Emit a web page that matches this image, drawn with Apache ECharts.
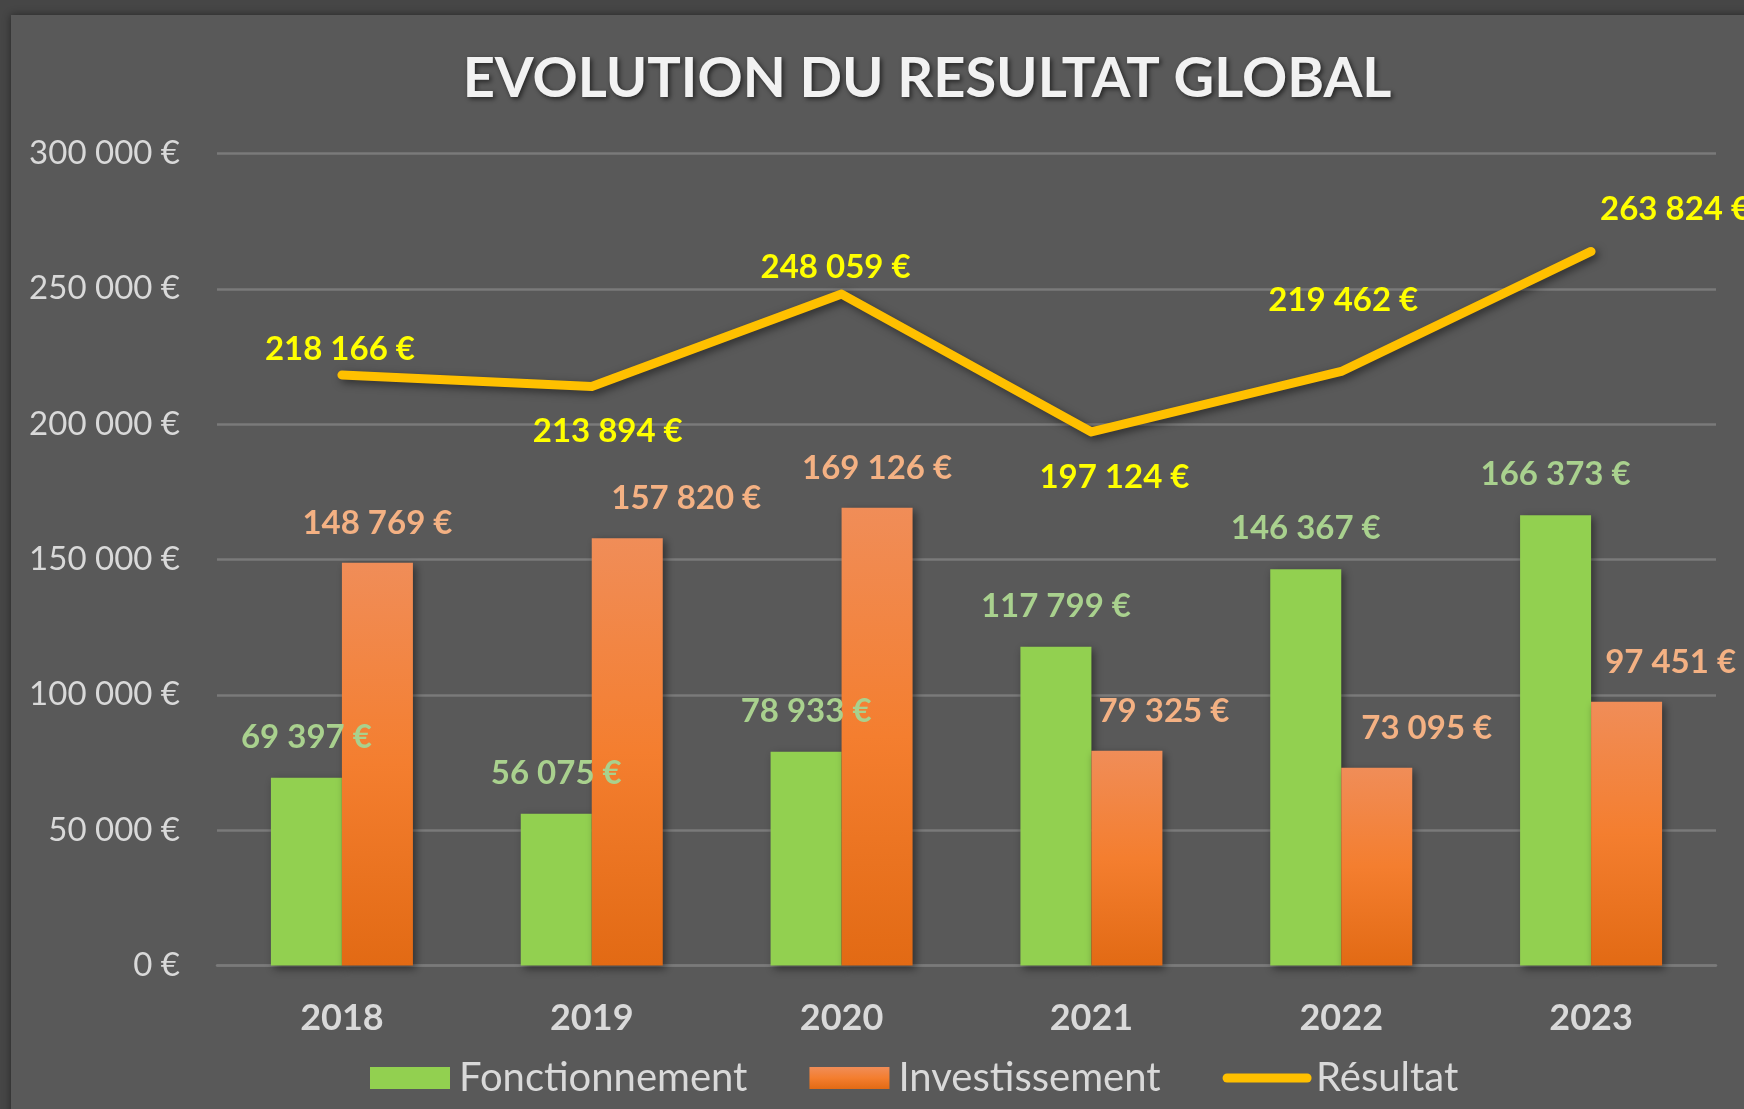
<!DOCTYPE html>
<html>
<head>
<meta charset="utf-8">
<title>Evolution du résultat global</title>
<script src="https://cdn.jsdelivr.net/npm/echarts@6/dist/echarts.min.js"></script>
<style>
	html, body { margin: 0; padding: 0; background: #464646; }
	#div1 { width: 1744px; height: 1109px; }
</style>
</head>
<body>
<div id="div1"></div>
<script>
var annees = ['2018', '2019', '2020', '2021', '2022', '2023'];
var fonctionnement = [69397, 56075, 78933, 117799, 146367, 166373];
var investissement = [148769, 157820, 169126, 79325, 73095, 97451];
var resultat = [218166, 213894, 248059, 197124, 219462, 263824];

// déplacements manuels des étiquettes (comme dans le classeur)
var decalageInvest = [0, 59, 0, 37, 50, 44];
var decalageResultat = [[-2, -26], [16, 45], [-6, -27], [23, 45], [2, -71], [84, -42]];

function euros(v) {
	return String(v).replace(/\B(?=(\d{3})+(?!\d))/g, ' ') + ' €';
}

var police = 'Lato';
var chart = echarts.init(document.getElementById('div1'));

chart.setOption({
	backgroundColor: '#464646',
	textStyle: { fontFamily: police },
	graphic: [{
		type: 'rect',
		z: -10,
		shape: { x: 11, y: 15, width: 1760, height: 1120 },
		style: { fill: '#595959', shadowBlur: 8, shadowColor: 'rgba(0,0,0,0.45)' }
	}],
	title: {
		text: 'EVOLUTION DU RESULTAT GLOBAL',
		left: 922,
		textAlign: 'center',
		top: 46,
		textStyle: {
			fontFamily: police,
			fontSize: 56,
			fontWeight: 'bold',
			color: '#f2f2f2',
			textShadowColor: 'rgba(0,0,0,0.6)',
			textShadowBlur: 5,
			textShadowOffsetX: 2,
			textShadowOffsetY: 2
		}
	},
	legend: {
		left: 365,
		top: 1053,
		itemWidth: 80,
		itemHeight: 22,
		itemGap: 62,
		textStyle: { fontSize: 40, color: '#d9d9d9', padding: [0, 0, 0, 4] },
		data: [
			{ name: 'Fonctionnement', icon: 'rect' },
			{ name: 'Investissement', icon: 'rect' },
			{
				name: 'Résultat',
				itemStyle: { opacity: 0 },
				lineStyle: { color: '#ffc000', width: 9, cap: 'round' }
			}
		]
	},
	grid: { left: 217, right: 28, top: 153.5, bottom: 143.5 },
	xAxis: {
		type: 'category',
		data: annees,
		axisLine: { lineStyle: { color: '#7a7a7a', width: 2.5 } },
		axisTick: { show: false },
		axisLabel: { fontSize: 36, fontWeight: 'bold', color: '#d9d9d9', margin: 35 }
	},
	yAxis: {
		type: 'value',
		min: 0,
		max: 300000,
		interval: 50000,
		axisLabel: { fontSize: 33, color: '#d9d9d9', margin: 37, formatter: euros },
		splitLine: { lineStyle: { color: '#7a7a7a', width: 2.5 } }
	},
	series: [{
		name: 'Fonctionnement',
		type: 'bar',
		barWidth: 71,
		barGap: '0%',
		data: fonctionnement,
		itemStyle: {
			color: '#92d050',
			shadowBlur: 8,
			shadowColor: 'rgba(0,0,0,0.45)',
			shadowOffsetX: 3,
			shadowOffsetY: 3
		},
		label: {
			show: true,
			position: 'top',
			distance: 24,
			fontSize: 33,
			fontWeight: 'bold',
			color: '#a9d18e',
			formatter: function (p) { return euros(p.value); }
		}
	}, {
		name: 'Investissement',
		type: 'bar',
		barWidth: 71,
		barGap: '0%',
		data: investissement.map(function (v, i) {
			return { value: v, label: { offset: [decalageInvest[i], 0] } };
		}),
		itemStyle: {
			color: new echarts.graphic.LinearGradient(0, 0, 0, 1, [
				{ offset: 0, color: '#f08d58' },
				{ offset: 0.5, color: '#f47e2f' },
				{ offset: 1, color: '#e26a14' }
			]),
			shadowBlur: 8,
			shadowColor: 'rgba(0,0,0,0.45)',
			shadowOffsetX: 3,
			shadowOffsetY: 3
		},
		label: {
			show: true,
			position: 'top',
			distance: 23,
			fontSize: 33,
			fontWeight: 'bold',
			color: '#f4b183',
			formatter: function (p) { return euros(p.value); }
		}
	}, {
		name: 'Résultat',
		type: 'line',
		symbol: 'circle',
		symbolSize: 2,
		data: resultat.map(function (v, i) {
			return { value: v, label: { offset: decalageResultat[i] } };
		}),
		itemStyle: { color: '#ffc000' },
		lineStyle: {
			color: '#ffc000',
			width: 9,
			cap: 'round',
			join: 'round',
			shadowBlur: 8,
			shadowColor: 'rgba(0,0,0,0.5)',
			shadowOffsetX: 3,
			shadowOffsetY: 3
		},
		label: {
			show: true,
			position: 'inside',
			fontSize: 33,
			fontWeight: 'bold',
			color: '#ffff00',
			formatter: function (p) { return euros(p.value); }
		},
		z: 5
	}]
});
</script>
</body>
</html>
